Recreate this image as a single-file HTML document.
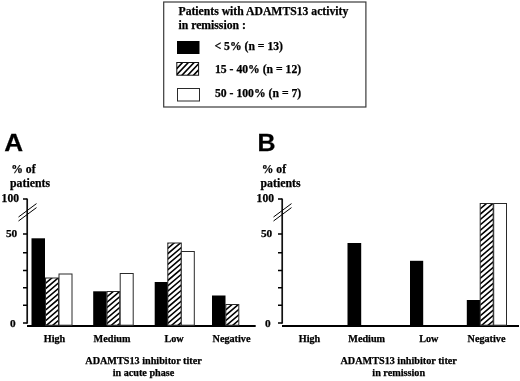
<!DOCTYPE html>
<html><head><meta charset="utf-8"><title>Figure</title>
<style>
html,body{margin:0;padding:0;background:#fff;}
svg{display:block}
text{font-family:"Liberation Serif","Times New Roman",serif;font-weight:bold;fill:#000;stroke:#000;stroke-width:0.25px}
.big{font-family:"Liberation Sans",Arial,sans-serif;font-weight:bold;font-size:24px}
</style></head><body>
<svg width="520" height="381" viewBox="0 0 520 381">
<defs>
<clipPath id="c1"><rect x="45.5" y="278.0" width="13.0" height="47.19999999999999"/></clipPath>
<clipPath id="c2"><rect x="107.0" y="291.5" width="12.8" height="33.69999999999999"/></clipPath>
<clipPath id="c3"><rect x="167.8" y="243.0" width="13.5" height="82.19999999999999"/></clipPath>
<clipPath id="c4"><rect x="225.8" y="304.5" width="13.0" height="20.69999999999999"/></clipPath>
<clipPath id="c5"><rect x="480.2" y="203.5" width="13.0" height="121.69999999999999"/></clipPath>
<clipPath id="c6"><rect x="176.8" y="62.5" width="21.8" height="12.7"/></clipPath>
</defs>
<rect width="520" height="381" fill="#fff"/>
<!-- legend -->
<rect x="163.7" y="2" width="202.2" height="105" fill="#fff" stroke="#3a3a3a" stroke-width="1.2"/>
<text x="178.5" y="14.5" font-size="11.7">Patients with ADAMTS13 activity</text>
<text x="178.5" y="28.5" font-size="11.7">in remission :</text>
<rect x="177" y="41" width="22.5" height="13" fill="#000"/>
<rect x="176.8" y="62.5" width="21.8" height="12.7" fill="#fff"/>
<g clip-path="url(#c6)" stroke="#000" stroke-width="1.6" fill="none">
<path d="M175.80,57.49 L199.60,32.50 M175.80,63.55 L199.60,38.56 M175.80,69.61 L199.60,44.62 M175.80,75.67 L199.60,50.68 M175.80,81.73 L199.60,56.74 M175.80,87.79 L199.60,62.80 M175.80,93.85 L199.60,68.86 M175.80,99.91 L199.60,74.92"/>
</g>
<rect x="176.8" y="62.5" width="21.8" height="12.7" fill="none" stroke="#111" stroke-width="1"/>
<rect x="177.5" y="88.5" width="22" height="12.5" fill="#fff" stroke="#2a2a2a" stroke-width="1"/>
<text x="214.5" y="50.1" font-size="11.7">&lt; 5% (n = 13)</text>
<text x="215" y="72.5" font-size="11.7">15 - 40% (n = 12)</text>
<text x="215" y="96.5" font-size="11.7">50 - 100% (n = 7)</text>
<!-- Panel A -->
<g id="A">
<text class="big" transform="translate(4.3,151) scale(1.09,1)">A</text>
<text x="11.2" y="173" font-size="11.7">% of</text>
<text x="10" y="187" font-size="11.8">patients</text>
<text x="19" y="202" font-size="11.6" text-anchor="end">100</text>
<text x="17.2" y="237" font-size="11.3" text-anchor="end">50</text>
<text x="15.7" y="326.7" font-size="11.3" text-anchor="end">0</text>
<path d="M27.2,198.5 V323.7" stroke="#111" stroke-width="1.7" fill="none"/>
<path d="M23,199.1 H27 M23,233.9 H27 M23,252.7 H27 M23,270.4 H27 M23,287.7 H27 M23,305.3 H27 M23,323 H27" stroke="#000" stroke-width="1.5" fill="none"/>
<path d="M18.5,217 L36.5,203.6 M18.5,221 L36.5,207.6" stroke="#000" stroke-width="1" fill="none"/>
<path d="M27,326.0 H255.7" stroke="#000" stroke-width="1.8" fill="none"/>
<rect x="31.5" y="238.3" width="13.5" height="87.69999999999999" fill="#000"/>
<rect x="45.5" y="278.0" width="13.0" height="47.19999999999999" fill="#fff"/>
<g clip-path="url(#c1)" stroke="#000" stroke-width="1.55" fill="none">
<path d="M44.50,273.50 L59.50,260.75 M44.50,278.85 L59.50,266.10 M44.50,284.20 L59.50,271.45 M44.50,289.55 L59.50,276.80 M44.50,294.90 L59.50,282.15 M44.50,300.25 L59.50,287.50 M44.50,305.60 L59.50,292.85 M44.50,310.95 L59.50,298.20 M44.50,316.30 L59.50,303.55 M44.50,321.65 L59.50,308.90 M44.50,327.00 L59.50,314.25 M44.50,332.35 L59.50,319.60 M44.50,337.70 L59.50,324.95"/>
</g>
<rect x="45.5" y="278.0" width="13.0" height="47.19999999999999" fill="none" stroke="#2a2a2a" stroke-width="1"/>
<rect x="59.0" y="274.0" width="13.0" height="51.19999999999999" fill="#fff" stroke="#2a2a2a" stroke-width="1"/>
<rect x="93.2" y="291.3" width="13.5" height="34.69999999999999" fill="#000"/>
<rect x="107.0" y="291.5" width="12.8" height="33.69999999999999" fill="#fff"/>
<g clip-path="url(#c2)" stroke="#000" stroke-width="1.55" fill="none">
<path d="M106.00,287.00 L120.80,274.42 M106.00,292.35 L120.80,279.77 M106.00,297.70 L120.80,285.12 M106.00,303.05 L120.80,290.47 M106.00,308.40 L120.80,295.82 M106.00,313.75 L120.80,301.17 M106.00,319.10 L120.80,306.52 M106.00,324.45 L120.80,311.87 M106.00,329.80 L120.80,317.22 M106.00,335.15 L120.80,322.57 M106.00,340.50 L120.80,327.92"/>
</g>
<rect x="107.0" y="291.5" width="12.8" height="33.69999999999999" fill="none" stroke="#2a2a2a" stroke-width="1"/>
<rect x="120.2" y="273.5" width="13.0" height="51.69999999999999" fill="#fff" stroke="#2a2a2a" stroke-width="1"/>
<rect x="154.7" y="282" width="13.5" height="44.0" fill="#000"/>
<rect x="167.8" y="243.0" width="13.5" height="82.19999999999999" fill="#fff"/>
<g clip-path="url(#c3)" stroke="#000" stroke-width="1.55" fill="none">
<path d="M166.80,238.50 L182.30,225.33 M166.80,243.85 L182.30,230.68 M166.80,249.20 L182.30,236.03 M166.80,254.55 L182.30,241.38 M166.80,259.90 L182.30,246.73 M166.80,265.25 L182.30,252.08 M166.80,270.60 L182.30,257.43 M166.80,275.95 L182.30,262.78 M166.80,281.30 L182.30,268.13 M166.80,286.65 L182.30,273.48 M166.80,292.00 L182.30,278.83 M166.80,297.35 L182.30,284.18 M166.80,302.70 L182.30,289.53 M166.80,308.05 L182.30,294.88 M166.80,313.40 L182.30,300.23 M166.80,318.75 L182.30,305.58 M166.80,324.10 L182.30,310.93 M166.80,329.45 L182.30,316.28 M166.80,334.80 L182.30,321.63 M166.80,340.15 L182.30,326.98"/>
</g>
<rect x="167.8" y="243.0" width="13.5" height="82.19999999999999" fill="none" stroke="#2a2a2a" stroke-width="1"/>
<rect x="181.3" y="251.5" width="13.0" height="73.69999999999999" fill="#fff" stroke="#2a2a2a" stroke-width="1"/>
<rect x="212" y="295.5" width="13.5" height="30.5" fill="#000"/>
<rect x="225.8" y="304.5" width="13.0" height="20.69999999999999" fill="#fff"/>
<g clip-path="url(#c4)" stroke="#000" stroke-width="1.55" fill="none">
<path d="M224.80,300.00 L239.80,287.25 M224.80,305.35 L239.80,292.60 M224.80,310.70 L239.80,297.95 M224.80,316.05 L239.80,303.30 M224.80,321.40 L239.80,308.65 M224.80,326.75 L239.80,314.00 M224.80,332.10 L239.80,319.35 M224.80,337.45 L239.80,324.70"/>
</g>
<rect x="225.8" y="304.5" width="13.0" height="20.69999999999999" fill="none" stroke="#2a2a2a" stroke-width="1"/>
<text x="54.5" y="341.7" font-size="10.2" text-anchor="middle">High</text>
<text x="112" y="341.7" font-size="10.2" text-anchor="middle">Medium</text>
<text x="174" y="341.7" font-size="10.2" text-anchor="middle">Low</text>
<text x="231.5" y="341.7" font-size="10.2" text-anchor="middle">Negative</text>
<text x="143.5" y="363.6" font-size="10.2" text-anchor="middle">ADAMTS13 inhibitor titer</text>
<text x="143.5" y="375.7" font-size="10.2" text-anchor="middle">in acute phase</text>
</g>
<!-- Panel B -->
<g id="B">
<text class="big" transform="translate(257.6,151) scale(1.04,1)">B</text>
<text x="261.7" y="173" font-size="11.7">% of</text>
<text x="260.5" y="187" font-size="11.8">patients</text>
<text x="274" y="202" font-size="11.6" text-anchor="end">100</text>
<text x="272.2" y="237" font-size="11.3" text-anchor="end">50</text>
<text x="270.7" y="326.7" font-size="11.3" text-anchor="end">0</text>
<path d="M282.2,198.5 V323.7" stroke="#111" stroke-width="1.7" fill="none"/>
<path d="M278,199.1 H282 M278,233.9 H282 M278,252.7 H282 M278,270.4 H282 M278,287.7 H282 M278,305.3 H282 M278,323 H282" stroke="#000" stroke-width="1.5" fill="none"/>
<path d="M273.5,217 L291.5,203.6 M273.5,221 L291.5,207.6" stroke="#000" stroke-width="1" fill="none"/>
<path d="M282,326.0 H519" stroke="#000" stroke-width="1.8" fill="none"/>
<rect x="347.5" y="243" width="13.7" height="83.0" fill="#000"/>
<rect x="410" y="260.8" width="13.2" height="65.19999999999999" fill="#000"/>
<rect x="466.8" y="300" width="13.2" height="26.0" fill="#000"/>
<rect x="480.2" y="203.5" width="13.0" height="121.69999999999999" fill="#fff"/>
<g clip-path="url(#c5)" stroke="#000" stroke-width="1.55" fill="none">
<path d="M479.20,199.00 L494.20,186.25 M479.20,204.35 L494.20,191.60 M479.20,209.70 L494.20,196.95 M479.20,215.05 L494.20,202.30 M479.20,220.40 L494.20,207.65 M479.20,225.75 L494.20,213.00 M479.20,231.10 L494.20,218.35 M479.20,236.45 L494.20,223.70 M479.20,241.80 L494.20,229.05 M479.20,247.15 L494.20,234.40 M479.20,252.50 L494.20,239.75 M479.20,257.85 L494.20,245.10 M479.20,263.20 L494.20,250.45 M479.20,268.55 L494.20,255.80 M479.20,273.90 L494.20,261.15 M479.20,279.25 L494.20,266.50 M479.20,284.60 L494.20,271.85 M479.20,289.95 L494.20,277.20 M479.20,295.30 L494.20,282.55 M479.20,300.65 L494.20,287.90 M479.20,306.00 L494.20,293.25 M479.20,311.35 L494.20,298.60 M479.20,316.70 L494.20,303.95 M479.20,322.05 L494.20,309.30 M479.20,327.40 L494.20,314.65 M479.20,332.75 L494.20,320.00 M479.20,338.10 L494.20,325.35"/>
</g>
<rect x="480.2" y="203.5" width="13.0" height="121.69999999999999" fill="none" stroke="#2a2a2a" stroke-width="1"/>
<rect x="493.7" y="203.5" width="12.8" height="121.69999999999999" fill="#fff" stroke="#2a2a2a" stroke-width="1"/>
<text x="309.5" y="341.7" font-size="10.2" text-anchor="middle">High</text>
<text x="366.7" y="341.7" font-size="10.2" text-anchor="middle">Medium</text>
<text x="428.8" y="341.7" font-size="10.2" text-anchor="middle">Low</text>
<text x="486.5" y="341.7" font-size="10.2" text-anchor="middle">Negative</text>
<text x="398.7" y="363.6" font-size="10.2" text-anchor="middle">ADAMTS13 inhibitor titer</text>
<text x="398.7" y="375.7" font-size="10.2" text-anchor="middle">in remission</text>
</g>
</svg>
</body></html>
